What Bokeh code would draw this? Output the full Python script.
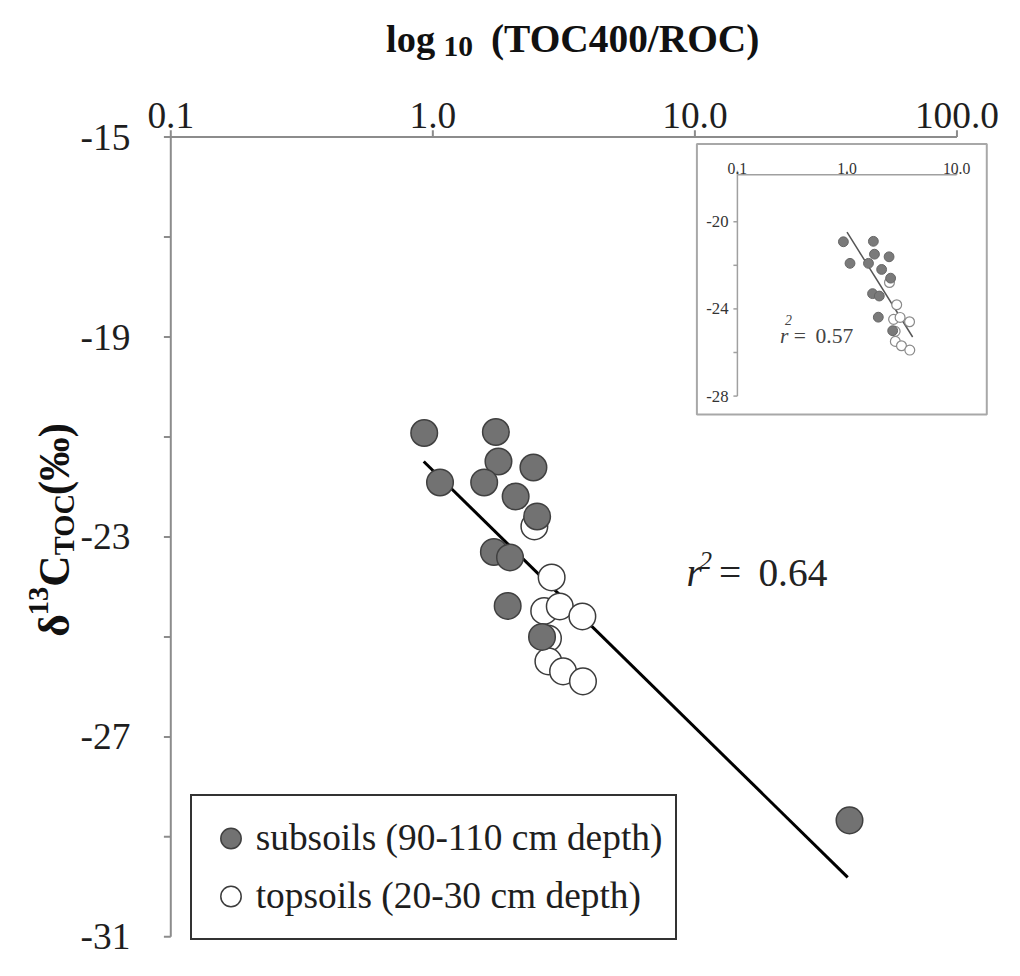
import math
from bokeh.plotting import figure
from bokeh.models import Range1d, LogScale, LinearScale, Legend, LegendItem, Label, Grid
from bokeh.embed import file_html
from bokeh.resources import INLINE
from bokeh.core.properties import value

# ---------------- data ----------------
sub_ratio = [0.927, 1.74, 1.78, 2.42, 1.065, 1.57, 2.07, 2.50, 1.71, 1.97, 1.93, 2.61, 38.9]
sub_d13c = [-20.92, -20.90, -21.49, -21.61, -21.91, -21.91, -22.19, -22.59, -23.30, -23.41, -24.38, -25.00, -28.67]
top_ratio = [2.44, 2.84, 2.66, 3.05, 3.72, 2.75, 2.76, 3.14, 3.74]
top_d13c = [-22.79, -23.81, -24.48, -24.39, -24.59, -25.03, -25.49, -25.69, -25.89]
fit_ratio = [0.923, 38.3]
fit_d13c = [-21.49, -29.81]
inset_fit_ratio = [1.0, 3.97]
inset_fit_d13c = [-20.48, -25.29]

x_ticks = [0.1, 1, 10, 100]
x_tick_labels = ["0.1", "1.0", "10.0", "100.0"]
y_ticks = [-31, -29, -27, -25, -23, -21, -19, -17, -15]
y_tick_labels = ["-31", "", "-27", "", "-23", "", "-19", "", "-15"]
inset_x_ticks = [0.1, 1, 10]
inset_x_tick_labels = ["0.1", "1.0", "10.0"]
inset_y_ticks = [-20, -22, -24, -26, -28]
inset_y_tick_labels = ["-20", "", "-24", "", "-28"]
inset_y_top = -17.85

legend_labels = ["subsoils (90-110 cm depth)", "topsoils (20-30 cm depth)"]
r2_main = "0.64"
r2_inset = "0.57"

# ---------------- layout (reference pixels -> canvas pixels) ----------------
W, H = 1004, 960
REF_W, REF_H = 1020.0, 976.0
SX, SY = W / REF_W, H / REF_H
S = (SX + SY) / 2
SHIFT = 6.0
def X(px):
    return px * SX
def Y(py):
    return py * SY - SHIFT
Y_TOP_REF = SHIFT / SY          # reference y shown at canvas top
Y_BOT_REF = (H + SHIFT) / SY    # reference y shown at canvas bottom

# main axes: 0.1 at x=173, 100 at x=971.7 ; -15 at y=145, -31 at y=958 (reference px)
DEC = (971.7 - 173.0) / 3.0
UNIT = (958.0 - 145.0) / 16.0
x_lo = 10 ** (-1 + (0 - 173.0) / DEC)
x_hi = 10 ** (-1 + (REF_W - 173.0) / DEC)
y_hi = -15 + (145.0 - Y_TOP_REF) / UNIT
y_lo = -31 - (Y_BOT_REF - 958.0) / UNIT
# inset: 1 at x=860, 111.35 px/decade ; -20 at y=231, 22.16 px/unit
IX1, IDEC, IY20, IPX = 860.0, 111.35, 231.0, 22.16

FONT = "Liberation Serif"
AX = "#8c8c8c"

p = figure(width=W, height=H, x_axis_type="log", x_axis_location=None, y_axis_location=None,
           x_range=Range1d(x_lo, x_hi), y_range=Range1d(y_lo, y_hi),
           min_border=0, min_border_left=0, min_border_right=0, min_border_top=0, min_border_bottom=0,
           output_backend="svg", toolbar_location=None)
p.x_scale = LogScale()
p.y_scale = LinearScale()
p.title.visible = False
p.outline_line_color = None
p.background_fill_color = "white"
p.border_fill_color = "white"
for r in list(p.center) + list(p.renderers):
    if isinstance(r, Grid):
        r.visible = False
p.xgrid.visible = False
p.ygrid.visible = False

p.extra_x_ranges = {"inset": Range1d(10 ** ((0 - IX1) / IDEC), 10 ** ((REF_W - IX1) / IDEC))}
p.extra_x_scales = {"inset": LogScale()}
p.extra_y_ranges = {"inset": Range1d(-20 - (Y_BOT_REF - IY20) / IPX, -20 + (IY20 - Y_TOP_REF) / IPX)}

# ---------------- main axes (from tick arrays, through the scales) ----------------
p.line(x=[min(x_ticks), max(x_ticks)], y=[max(y_ticks)] * 2, line_color=AX, line_width=2)
p.ray(x=x_ticks, y=[max(y_ticks)] * len(x_ticks), length=7 * S, length_units="screen",
      angle=math.pi / 2, line_color=AX, line_width=2)
p.text(x=x_ticks, y=[max(y_ticks)] * len(x_ticks), text=x_tick_labels,
       text_font=value(FONT), text_font_size=f"{38 * S:.1f}px", text_color="#1e1e1e",
       text_align="center", text_baseline="alphabetic", y_offset=-22 * S)
p.line(x=[min(x_ticks)] * 2, y=[min(y_ticks), max(y_ticks)], line_color=AX, line_width=2)
p.ray(x=[min(x_ticks)] * len(y_ticks), y=y_ticks, length=7 * S, length_units="screen",
      angle=math.pi, line_color=AX, line_width=2)
p.text(x=[min(x_ticks)] * len(y_ticks), y=y_ticks, text=y_tick_labels,
       text_font=value(FONT), text_font_size=f"{38 * S:.1f}px", text_color="#1e1e1e",
       text_align="right", text_baseline="middle", x_offset=-41 * S)

# ---------------- inset ----------------
INS = dict(x_range_name="inset", y_range_name="inset")
box_l = 10 ** ((707.5 - IX1) / IDEC)
box_r = 10 ** ((1002.0 - IX1) / IDEC)
box_t = -20 + (IY20 - 152.0) / IPX
box_b = -20 - (427.0 - IY20) / IPX
IAX = "#a0a0a0"
p.quad(left=[box_l], right=[box_r], top=[box_t], bottom=[box_b],
       fill_color="white", line_color="#a8a8a8", line_width=2, **INS)
p.line(x=[min(inset_x_ticks), max(inset_x_ticks)], y=[inset_y_top] * 2,
       line_color=IAX, line_width=1.5, **INS)
p.line(x=[min(inset_x_ticks)] * 2, y=[inset_y_top, min(inset_y_ticks)],
       line_color=IAX, line_width=1.5, **INS)
p.ray(x=inset_x_ticks, y=[inset_y_top] * len(inset_x_ticks), length=4, length_units="screen",
      angle=math.pi / 2, line_color=IAX, line_width=1.5, **INS)
p.ray(x=[min(inset_x_ticks)] * len(inset_y_ticks), y=inset_y_ticks, length=4, length_units="screen",
      angle=math.pi, line_color=IAX, line_width=1.5, **INS)
p.text(x=inset_x_ticks, y=[inset_y_top] * len(inset_x_ticks), text=inset_x_tick_labels,
       text_font=value(FONT), text_font_size=f"{16 * S:.1f}px", text_color="#333333",
       text_align="center", text_baseline="alphabetic", y_offset=-6 * S, **INS)
p.text(x=[min(inset_x_ticks)] * len(inset_y_ticks), y=inset_y_ticks, text=inset_y_tick_labels,
       text_font=value(FONT), text_font_size=f"{17 * S:.1f}px", text_color="#333333",
       text_align="right", text_baseline="middle", x_offset=-9 * S, **INS)

in_sub = [(a, b) for a, b in zip(sub_ratio, sub_d13c) if a <= max(inset_x_ticks)]
in_top = [(a, b) for a, b in zip(top_ratio, top_d13c) if a <= max(inset_x_ticks)]
p.line(x=inset_fit_ratio, y=inset_fit_d13c, line_color="#555555", line_width=1.5, **INS)
p.scatter(x=[a for a, b in in_top], y=[b for a, b in in_top], size=10 * S, marker="circle",
          fill_color="white", line_color="#8a8a8a", line_width=1.2, **INS)
p.scatter(x=[a for a, b in in_sub], y=[b for a, b in in_sub], size=10 * S, marker="circle",
          fill_color="#7a7a7a", line_color="#666666", line_width=1.0, **INS)

# ---------------- main marks ----------------
p.line(x=fit_ratio, y=fit_d13c, line_color="black", line_width=3)
r_top = p.scatter(x=top_ratio, y=top_d13c, size=27 * S, marker="circle",
                  fill_color="white", line_color="#3c3c3c", line_width=1.5)
r_sub = p.scatter(x=sub_ratio, y=sub_d13c, size=27 * S, marker="circle",
                  fill_color="#727272", line_color="#404040", line_width=1.5)

GW, GH, PAD = 52 * S, 59 * S, 12.8 * S
legend = Legend(items=[LegendItem(label=legend_labels[0], renderers=[r_sub]),
                       LegendItem(label=legend_labels[1], renderers=[r_top])],
                location=(X(192.7), H - Y(961.7)),
                glyph_width=round(GW), glyph_height=round(GH), label_height=round(GH),
                padding=round(PAD), spacing=0, margin=0, label_standoff=0,
                label_text_font=FONT, label_text_font_size=f"{38 * S:.1f}px",
                label_text_color="#1e1e1e",
                border_line_color="#333333", border_line_width=2, border_line_alpha=1.0,
                background_fill_color="white", background_fill_alpha=1.0)
p.add_layout(legend)

# ---------------- texts placed at reference pixel positions ----------------
def lab(text, px, py, size, style="normal", angle=0.0, color="#111111"):
    p.add_layout(Label(x=X(px), y=H - Y(py), x_units="screen", y_units="screen", text=text,
                       text_font=FONT, text_font_size=f"{size * S:.1f}px", text_font_style=style,
                       angle=angle, text_align="left", text_baseline="alphabetic",
                       text_color=color))

# x title: log10 (TOC400/ROC)
lab("log", 391.7, 45, 39, "bold")
lab("10", 450.0, 53, 30, "bold")
lab("(TOC400/ROC)", 498.3, 45, 40, "bold")

# y title: δ13C_TOC (‰), reading upwards
A = math.pi / 2
lab("δ", 54, 653, 44, "bold", A)
lab("13", 39, 631, 29, "bold", A)
lab("C", 54, 602, 44, "bold", A)
lab("TOC", 65, 570, 29, "bold", A)
lab("(‰)", 54, 509, 44, "bold", A)

# r² main
lab("r", 697, 588, 40, "italic", color="#222222")
lab("2", 710, 575, 26, "italic", color="#222222")
lab("=", 730, 588, 40, color="#222222")
lab(r2_main, 770, 588, 40, color="#222222")

# r² inset
lab("r", 792, 347, 22, "italic", color="#444444")
lab("2", 797, 331, 14, "italic", color="#444444")
lab("=", 806, 347, 22, color="#444444")
lab(r2_inset, 828, 347, 22, color="#444444")

open("out.html", "w").write(file_html(p, INLINE))
